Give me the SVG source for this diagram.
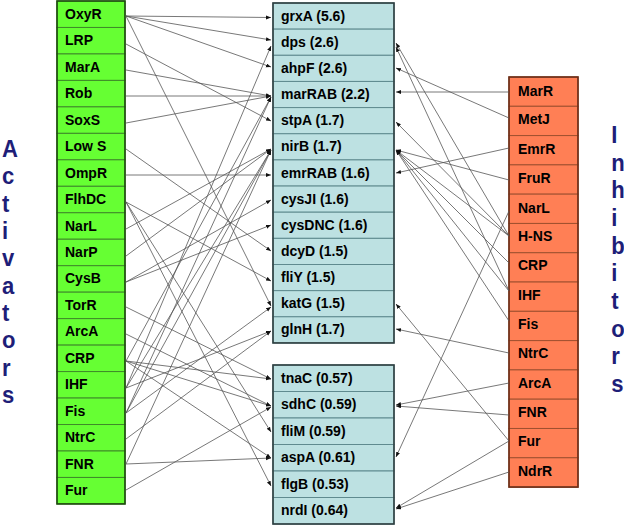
<svg xmlns="http://www.w3.org/2000/svg" width="624" height="526" viewBox="0 0 624 526">
<style>
text{font-family:"Liberation Sans",Arial,sans-serif;font-weight:bold}
.t{font-size:14px;fill:#000}
.big{font-size:24px;fill:#1E1E78}
.ra{fill:#66FF33;stroke:#3F8A2A;stroke-width:1}
.rm{fill:#BDE1E2;stroke:#5F8A8F;stroke-width:1}
.ri{fill:#FF7F55;stroke:#A0502F;stroke-width:1}
.frame{fill:none;stroke-width:1.6}
.c{stroke:#555;stroke-width:0.8;fill:none;marker-end:url(#ah)}
</style>
<defs>
<marker id="ah" markerUnits="userSpaceOnUse" markerWidth="6" markerHeight="5" refX="5" refY="2" orient="auto">
<path d="M0,0 L5,2 L0,4 z" fill="#111"/>
</marker>
</defs>

<!-- Side titles -->
<g id="activators-label" transform="scale(0.92,1)">
<text class="big" x="2.2" y="157">A</text>
<text class="big" x="2.2" y="184.3">c</text>
<text class="big" x="2.2" y="211.7">t</text>
<text class="big" x="2.2" y="239">i</text>
<text class="big" x="2.2" y="266.3">v</text>
<text class="big" x="2.2" y="293.7">a</text>
<text class="big" x="2.2" y="321">t</text>
<text class="big" x="2.2" y="348.3">o</text>
<text class="big" x="2.2" y="375.7">r</text>
<text class="big" x="2.2" y="403">s</text>
</g>
<g id="inhibitors-label" transform="scale(0.92,1)">
<text class="big" x="664.5" y="143">I</text>
<text class="big" x="664.5" y="170.7">n</text>
<text class="big" x="664.5" y="198.3">h</text>
<text class="big" x="664.5" y="226">i</text>
<text class="big" x="664.5" y="253.7">b</text>
<text class="big" x="664.5" y="281.3">i</text>
<text class="big" x="664.5" y="309">t</text>
<text class="big" x="664.5" y="336.7">o</text>
<text class="big" x="664.5" y="364.3">r</text>
<text class="big" x="664.5" y="392">s</text>
</g>

<!-- Activators -->
<g id="activator-list">
<g id="a-OxyR"><rect class="ra" x="57" y="1" width="68" height="26.47"/><text class="t" x="65" y="18.7">OxyR</text></g>
<g id="a-LRP"><rect class="ra" x="57" y="27.47" width="68" height="26.47"/><text class="t" x="65" y="45.2">LRP</text></g>
<g id="a-MarA"><rect class="ra" x="57" y="53.94" width="68" height="26.47"/><text class="t" x="65" y="71.6">MarA</text></g>
<g id="a-Rob"><rect class="ra" x="57" y="80.41" width="68" height="26.47"/><text class="t" x="65" y="98.1">Rob</text></g>
<g id="a-SoxS"><rect class="ra" x="57" y="106.88" width="68" height="26.47"/><text class="t" x="65" y="124.6">SoxS</text></g>
<g id="a-LowS"><rect class="ra" x="57" y="133.35" width="68" height="26.47"/><text class="t" x="65" y="151.1">Low S</text></g>
<g id="a-OmpR"><rect class="ra" x="57" y="159.82" width="68" height="26.47"/><text class="t" x="65" y="177.5">OmpR</text></g>
<g id="a-FlhDC"><rect class="ra" x="57" y="186.29" width="68" height="26.47"/><text class="t" x="65" y="204">FlhDC</text></g>
<g id="a-NarL"><rect class="ra" x="57" y="212.76" width="68" height="26.47"/><text class="t" x="65" y="230.5">NarL</text></g>
<g id="a-NarP"><rect class="ra" x="57" y="239.23" width="68" height="26.47"/><text class="t" x="65" y="257">NarP</text></g>
<g id="a-CysB"><rect class="ra" x="57" y="265.7" width="68" height="26.47"/><text class="t" x="65" y="283.4">CysB</text></g>
<g id="a-TorR"><rect class="ra" x="57" y="292.17" width="68" height="26.47"/><text class="t" x="65" y="309.9">TorR</text></g>
<g id="a-ArcA"><rect class="ra" x="57" y="318.64" width="68" height="26.47"/><text class="t" x="65" y="336.4">ArcA</text></g>
<g id="a-CRP"><rect class="ra" x="57" y="345.11" width="68" height="26.47"/><text class="t" x="65" y="362.8">CRP</text></g>
<g id="a-IHF"><rect class="ra" x="57" y="371.58" width="68" height="26.47"/><text class="t" x="65" y="389.3">IHF</text></g>
<g id="a-Fis"><rect class="ra" x="57" y="398.05" width="68" height="26.47"/><text class="t" x="65" y="415.8">Fis</text></g>
<g id="a-NtrC"><rect class="ra" x="57" y="424.52" width="68" height="26.47"/><text class="t" x="65" y="442.3">NtrC</text></g>
<g id="a-FNR"><rect class="ra" x="57" y="450.99" width="68" height="26.47"/><text class="t" x="65" y="468.7">FNR</text></g>
<g id="a-Fur"><rect class="ra" x="57" y="477.46" width="68" height="26.47"/><text class="t" x="65" y="495.2">Fur</text></g>
<rect class="frame" x="57" y="1" width="68" height="502.93" stroke="#1F4A10"/>
</g>

<!-- Up-regulated genes -->
<g id="up-genes">
<g id="g-grxA"><rect class="rm" x="273" y="3" width="121" height="26.15"/><text class="t" x="281" y="20.6">grxA (5.6)</text></g>
<g id="g-dps"><rect class="rm" x="273" y="29.15" width="121" height="26.15"/><text class="t" x="281" y="46.7">dps (2.6)</text></g>
<g id="g-ahpF"><rect class="rm" x="273" y="55.3" width="121" height="26.15"/><text class="t" x="281" y="72.9">ahpF (2.6)</text></g>
<g id="g-marRAB"><rect class="rm" x="273" y="81.45" width="121" height="26.15"/><text class="t" x="281" y="99">marRAB (2.2)</text></g>
<g id="g-stpA"><rect class="rm" x="273" y="107.6" width="121" height="26.15"/><text class="t" x="281" y="125.2">stpA (1.7)</text></g>
<g id="g-nirB"><rect class="rm" x="273" y="133.75" width="121" height="26.15"/><text class="t" x="281" y="151.3">nirB (1.7)</text></g>
<g id="g-emrRAB"><rect class="rm" x="273" y="159.9" width="121" height="26.15"/><text class="t" x="281" y="177.5">emrRAB (1.6)</text></g>
<g id="g-cysJI"><rect class="rm" x="273" y="186.05" width="121" height="26.15"/><text class="t" x="281" y="203.6">cysJI (1.6)</text></g>
<g id="g-cysDNC"><rect class="rm" x="273" y="212.2" width="121" height="26.15"/><text class="t" x="281" y="229.8">cysDNC (1.6)</text></g>
<g id="g-dcyD"><rect class="rm" x="273" y="238.35" width="121" height="26.15"/><text class="t" x="281" y="255.9">dcyD (1.5)</text></g>
<g id="g-fliY"><rect class="rm" x="273" y="264.5" width="121" height="26.15"/><text class="t" x="281" y="282.1">fliY (1.5)</text></g>
<g id="g-katG"><rect class="rm" x="273" y="290.65" width="121" height="26.15"/><text class="t" x="281" y="308.2">katG (1.5)</text></g>
<g id="g-glnH"><rect class="rm" x="273" y="316.8" width="121" height="26.15"/><text class="t" x="281" y="334.4">glnH (1.7)</text></g>
<rect class="frame" x="273" y="3" width="121" height="339.95" stroke="#2F3F40"/>
</g>

<!-- Down-regulated genes -->
<g id="down-genes">
<g id="g-tnaC"><rect class="rm" x="273" y="365" width="121" height="26.5"/><text class="t" x="281" y="382.8">tnaC (0.57)</text></g>
<g id="g-sdhC"><rect class="rm" x="273" y="391.5" width="121" height="26.5"/><text class="t" x="281" y="409.3">sdhC (0.59)</text></g>
<g id="g-fliM"><rect class="rm" x="273" y="418" width="121" height="26.5"/><text class="t" x="281" y="435.8">fliM (0.59)</text></g>
<g id="g-aspA"><rect class="rm" x="273" y="444.5" width="121" height="26.5"/><text class="t" x="281" y="462.3">aspA (0.61)</text></g>
<g id="g-flgB"><rect class="rm" x="273" y="471" width="121" height="26.5"/><text class="t" x="281" y="488.8">flgB (0.53)</text></g>
<g id="g-nrdI"><rect class="rm" x="273" y="497.5" width="121" height="26.5"/><text class="t" x="281" y="515.3">nrdI (0.64)</text></g>
<rect class="frame" x="273" y="365" width="121" height="159" stroke="#2F3F40"/>
</g>

<!-- Inhibitors -->
<g id="inhibitor-list">
<g id="i-MarR"><rect class="ri" x="509" y="77" width="69" height="29.29"/><text class="t" x="518" y="95.6">MarR</text></g>
<g id="i-MetJ"><rect class="ri" x="509" y="106.29" width="69" height="29.29"/><text class="t" x="518" y="124.4">MetJ</text></g>
<g id="i-EmrR"><rect class="ri" x="509" y="135.58" width="69" height="29.29"/><text class="t" x="518" y="153.9">EmrR</text></g>
<g id="i-FruR"><rect class="ri" x="509" y="164.87" width="69" height="29.29"/><text class="t" x="518" y="183.2">FruR</text></g>
<g id="i-NarL"><rect class="ri" x="509" y="194.16" width="69" height="29.29"/><text class="t" x="518" y="212.5">NarL</text></g>
<g id="i-HNS"><rect class="ri" x="509" y="223.45" width="69" height="29.29"/><text class="t" x="518" y="241.1">H-NS</text></g>
<g id="i-CRP"><rect class="ri" x="509" y="252.74" width="69" height="29.29"/><text class="t" x="518" y="270.4">CRP</text></g>
<g id="i-IHF"><rect class="ri" x="509" y="282.03" width="69" height="29.29"/><text class="t" x="518" y="299.7">IHF</text></g>
<g id="i-Fis"><rect class="ri" x="509" y="311.32" width="69" height="29.29"/><text class="t" x="518" y="329">Fis</text></g>
<g id="i-NtrC"><rect class="ri" x="509" y="340.61" width="69" height="29.29"/><text class="t" x="518" y="358.3">NtrC</text></g>
<g id="i-ArcA"><rect class="ri" x="509" y="369.9" width="69" height="29.29"/><text class="t" x="518" y="387.6">ArcA</text></g>
<g id="i-FNR"><rect class="ri" x="509" y="399.19" width="69" height="29.29"/><text class="t" x="518" y="416.9">FNR</text></g>
<g id="i-Fur"><rect class="ri" x="509" y="428.48" width="69" height="29.29"/><text class="t" x="518" y="446.2">Fur</text></g>
<g id="i-NdrR"><rect class="ri" x="509" y="457.77" width="69" height="29.29"/><text class="t" x="518" y="475.5">NdrR</text></g>
<rect class="frame" x="509" y="77" width="69" height="410.06" stroke="#6A2E18"/>
</g>

<!-- Connectors -->
<g id="connectors">
<line class="c" x1="126" y1="16" x2="271" y2="17.5"/>
<line class="c" x1="126" y1="16" x2="271" y2="40"/>
<line class="c" x1="126" y1="16" x2="271" y2="67"/>
<line class="c" x1="126" y1="16" x2="271" y2="306"/>
<line class="c" x1="126" y1="44" x2="271" y2="121"/>
<line class="c" x1="126" y1="70" x2="271" y2="96"/>
<line class="c" x1="126" y1="96" x2="271" y2="96"/>
<line class="c" x1="126" y1="123" x2="271" y2="96"/>
<line class="c" x1="126" y1="149" x2="271" y2="251"/>
<line class="c" x1="126" y1="175" x2="271" y2="175"/>
<line class="c" x1="126" y1="202" x2="271" y2="281"/>
<line class="c" x1="126" y1="202" x2="271" y2="432"/>
<line class="c" x1="126" y1="202" x2="271" y2="486"/>
<line class="c" x1="126" y1="229" x2="271" y2="149"/>
<line class="c" x1="126" y1="256" x2="271" y2="149"/>
<line class="c" x1="126" y1="282" x2="271" y2="200"/>
<line class="c" x1="126" y1="282" x2="271" y2="225"/>
<line class="c" x1="126" y1="307" x2="271" y2="379"/>
<line class="c" x1="126" y1="334" x2="271" y2="406"/>
<line class="c" x1="126" y1="361" x2="271" y2="379"/>
<line class="c" x1="126" y1="361" x2="271" y2="406"/>
<line class="c" x1="126" y1="361" x2="271" y2="458"/>
<line class="c" x1="126" y1="361" x2="271" y2="97"/>
<line class="c" x1="126" y1="388" x2="271" y2="331"/>
<line class="c" x1="126" y1="388" x2="271" y2="46"/>
<line class="c" x1="126" y1="388" x2="271" y2="150"/>
<line class="c" x1="126" y1="413" x2="271" y2="150"/>
<line class="c" x1="126" y1="413" x2="271" y2="97"/>
<line class="c" x1="126" y1="413" x2="271" y2="307"/>
<line class="c" x1="126" y1="439" x2="271" y2="331"/>
<line class="c" x1="126" y1="464" x2="271" y2="150"/>
<line class="c" x1="126" y1="464" x2="271" y2="458"/>
<line class="c" x1="126" y1="490" x2="271" y2="407"/>

<line class="c" x1="509" y1="92" x2="396" y2="92"/>
<line class="c" x1="509" y1="118" x2="396" y2="68"/>
<line class="c" x1="509" y1="148" x2="396" y2="173"/>
<line class="c" x1="509" y1="180" x2="396" y2="150"/>
<line class="c" x1="509" y1="211" x2="396" y2="457"/>
<line class="c" x1="509" y1="236" x2="396" y2="43"/>
<line class="c" x1="509" y1="236" x2="396" y2="122"/>
<line class="c" x1="509" y1="236" x2="396" y2="150"/>
<line class="c" x1="509" y1="263" x2="396" y2="150"/>
<line class="c" x1="509" y1="291" x2="396" y2="150"/>
<line class="c" x1="509" y1="291" x2="396" y2="47"/>
<line class="c" x1="509" y1="321" x2="396" y2="150"/>
<line class="c" x1="509" y1="353" x2="396" y2="329"/>
<line class="c" x1="509" y1="383" x2="396" y2="405"/>
<line class="c" x1="509" y1="415" x2="396" y2="406"/>
<line class="c" x1="509" y1="441" x2="396" y2="304"/>
<line class="c" x1="509" y1="441" x2="396" y2="508"/>
<line class="c" x1="509" y1="472" x2="396" y2="509"/>
</g>
</svg>
